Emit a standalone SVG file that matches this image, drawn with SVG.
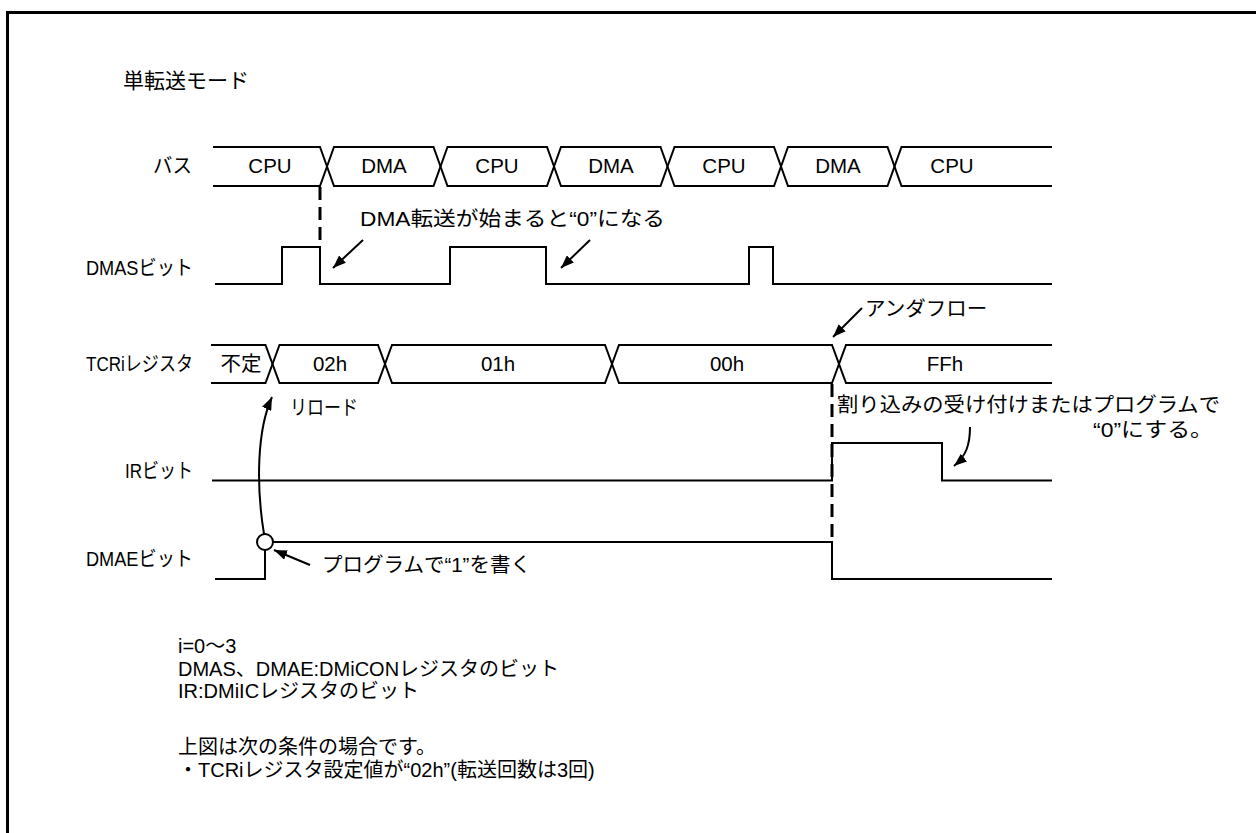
<svg xmlns="http://www.w3.org/2000/svg" width="1256" height="833" viewBox="0 0 1256 833">
<style>
.t{font-family:"Liberation Sans","Noto Sans CJK JP",sans-serif;font-size:20.5px;fill:#000}
.s{font-family:"Liberation Sans","Noto Sans CJK JP",sans-serif;font-size:20px;fill:#000}
.m{text-anchor:middle}
.e{text-anchor:end}
.w{fill:none;stroke:#000;stroke-width:2;stroke-linejoin:miter}
.d{fill:none;stroke:#000;stroke-width:3;stroke-dasharray:13 7}
.a{fill:none;stroke:#000;stroke-width:2;marker-end:url(#ah)}
</style>
<defs>
<marker id="ah" markerUnits="userSpaceOnUse" markerWidth="14" markerHeight="10" refX="13" refY="5" orient="auto">
<path d="M0,0 L13,5 L0,10 z" fill="#000"/>
</marker>
</defs>
<rect x="0" y="0" width="1256" height="833" fill="#fff"/>
<rect x="7.5" y="12.5" width="1300" height="900" fill="none" stroke="#000" stroke-width="3"/>
<text class="t" x="123" y="88" style="font-size:21px">単転送モード</text>

<g id="bus">
<text class="t e" x="192" y="173" textLength="39" lengthAdjust="spacingAndGlyphs">バス</text>
<path class="w" d="M213,147 H320 L327,166.5 L320,186 H213"/>
<path class="w" d="M327,166.5 L334,147 H433.5 L440.5,166.5 L433.5,186 H334 Z"/>
<path class="w" d="M440.5,166.5 L447.5,147 H547 L554,166.5 L547,186 H447.5 Z"/>
<path class="w" d="M554,166.5 L561,147 H660.5 L667.5,166.5 L660.5,186 H561 Z"/>
<path class="w" d="M667.5,166.5 L674.5,147 H774 L781,166.5 L774,186 H674.5 Z"/>
<path class="w" d="M781,166.5 L788,147 H887.5 L894.5,166.5 L887.5,186 H788 Z"/>
<path class="w" d="M1052,147 H901.5 L894.5,166.5 L901.5,186 H1052"/>
<text class="t m" x="270" y="173">CPU</text>
<text class="t m" x="384" y="173">DMA</text>
<text class="t m" x="497" y="173">CPU</text>
<text class="t m" x="611" y="173">DMA</text>
<text class="t m" x="724" y="173">CPU</text>
<text class="t m" x="838" y="173">DMA</text>
<text class="t m" x="952" y="173">CPU</text>
</g>

<g id="dmas">
<text class="t e" x="193" y="275" textLength="107" lengthAdjust="spacingAndGlyphs">DMASビット</text>
<path class="w" d="M215,284 H282 V247 H320 V284 H450 V247 H546 V284 H749 V247 H773 V284 H1052"/>
<text class="t" x="360" y="226" textLength="305" lengthAdjust="spacingAndGlyphs">DMA転送が始まると“0”になる</text>
</g>

<g id="tcr">
<text class="t e" x="193" y="371" textLength="107" lengthAdjust="spacingAndGlyphs">TCRiレジスタ</text>
<path class="w" d="M211,345 H265.5 L272.5,364 L265.5,383 H211"/>
<path class="w" d="M272.5,364 L279.5,345 H378 L385,364 L378,383 H279.5 Z"/>
<path class="w" d="M385,364 L392,345 H605 L612,364 L605,383 H392 Z"/>
<path class="w" d="M612,364 L619,345 H832 L839,364 L832,383 H619 Z"/>
<path class="w" d="M1052,345 H846 L839,364 L846,383 H1052"/>
<text class="t m" x="241" y="371">不定</text>
<text class="t m" x="330" y="371">02h</text>
<text class="t m" x="498" y="371">01h</text>
<text class="t m" x="727" y="371">00h</text>
<text class="t m" x="945" y="371">FFh</text>
<text class="t" x="865" y="316">アンダフロー</text>
<text class="t" x="290" y="415" textLength="68" lengthAdjust="spacingAndGlyphs">リロード</text>
</g>

<g id="ir">
<text class="t e" x="193" y="478" textLength="68" lengthAdjust="spacingAndGlyphs">IRビット</text>
<path class="w" d="M212,480.5 H832 V443 H942 V480.5 H1052"/>
<text class="t" x="837" y="412" textLength="383" lengthAdjust="spacingAndGlyphs">割り込みの受け付けまたはプログラムで</text>
<text class="t" x="1093" y="437" textLength="120" lengthAdjust="spacingAndGlyphs">“0”にする。</text>
</g>

<g id="dmae">
<text class="t e" x="193" y="566" textLength="107" lengthAdjust="spacingAndGlyphs">DMAEビット</text>
<path class="w" d="M215,579 H265 V542 H832 V579 H1052"/>
<circle cx="265" cy="542" r="8" fill="#fff" stroke="#000" stroke-width="2"/>
<text class="t" x="322" y="572">プログラムで“1”を書く</text>
</g>

<g id="connectors">
<line class="d" x1="320" y1="187" x2="320" y2="247"/>
<line class="d" x1="832" y1="384" x2="832" y2="542"/>
<line class="a" x1="363" y1="240" x2="333" y2="268"/>
<line class="a" x1="590" y1="240" x2="561" y2="268"/>
<line class="a" x1="862" y1="308" x2="833" y2="337"/>
<path class="a" d="M970,427 C970,445 966,456 954,466"/>
<path class="a" d="M264,534 C256,485 257,430 272,397"/>
<line class="a" x1="310" y1="565" x2="274" y2="550"/>
</g>

<g id="notes">
<text class="s" x="178" y="653">i=0〜3</text>
<text class="s" x="178" y="676">DMAS、DMAE:DMiCONレジスタのビット</text>
<text class="s" x="178" y="698">IR:DMiICレジスタのビット</text>
<text class="s" x="178" y="754">上図は次の条件の場合です。</text>
<text class="s" x="178" y="777">・TCRiレジスタ設定値が“02h”(転送回数は3回)</text>
</g>
</svg>
